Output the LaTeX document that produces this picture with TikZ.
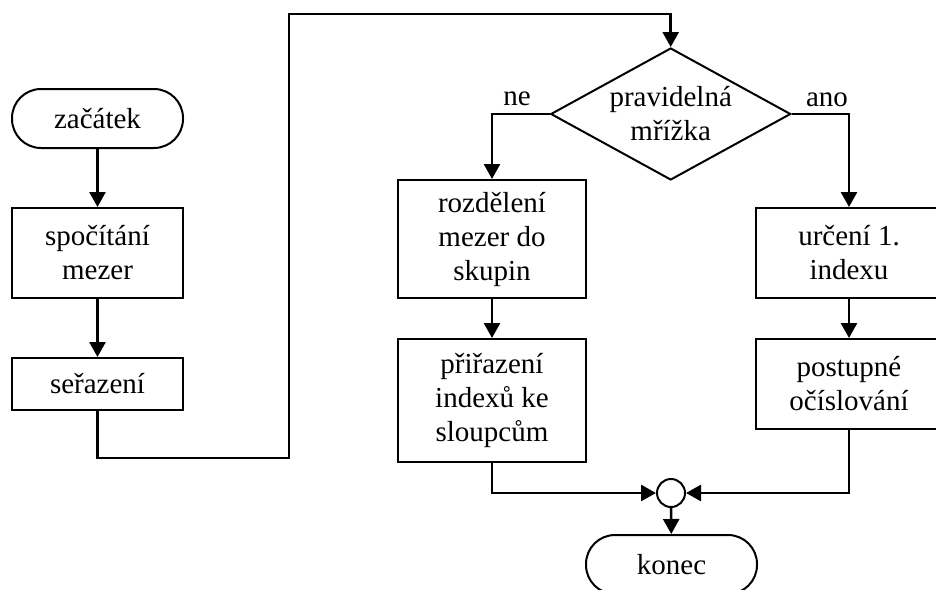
\documentclass[tikz,border=0pt]{standalone}
\usepackage{fontspec}
\setmainfont{Liberation Serif}
\usetikzlibrary{shapes.geometric,arrows.meta}

\begin{document}
\begin{tikzpicture}[x=1pt,y=-1pt,
  every node/.style={font=\fontsize{29}{34}\selectfont, inner sep=0pt, align=center},
  terminal/.style={draw, line width=2pt, rounded corners=29pt,
    minimum width=171pt, minimum height=59pt},
  process/.style={draw, line width=2pt, minimum width=188pt},
  decision/.style={draw, diamond, aspect=1.82, line width=2pt,
    minimum width=240pt, minimum height=132pt},
  junction/.style={draw, circle, line width=2pt, minimum size=28pt},
  flow/.style={line width=2.6pt, -{Triangle[length=15pt,width=16pt]}},
  branchlabel/.style={anchor=base}]

\clip (0,0) rectangle (936,589);

% left column
\node[terminal] (start) at (97.5,118.5) {začátek};
\node[process, minimum width=171pt, minimum height=90pt] (count) at (97.5,253) {spočítání\\mezer};
\node[process, minimum width=171pt, minimum height=52pt] (sort) at (97.5,384) {seřazení};

% decision
\node[decision] (grid) at (670.7,114) {pravidelná\\mřížka};
\node[branchlabel] (no) at (517,105) {ne};
\node[branchlabel] (yes) at (827,106) {ano};

% irregular branch
\node[process, minimum height=118pt] (groups) at (492,239) {rozdělení\\mezer do\\skupin};
\node[process, minimum height=123pt] (assign) at (492,400.5) {přiřazení\\indexů ke\\sloupcům};

% regular branch
\node[process, minimum width=186pt, minimum height=90pt] (first) at (849,253) {určení 1.\\indexu};
\node[process, minimum width=186pt, minimum height=90pt] (number) at (849,384) {postupné\\očíslování};

% merge and end
\node[junction] (merge) at (671,493) {};
\node[terminal] (stop) at (671.5,564.5) {konec};

% loop from the left column to the decision
\coordinate (loopbottom) at (289,458);
\coordinate (looptop) at (289,14);

\draw[flow] (start) -- (count);
\draw[flow] (count) -- (sort);
\draw[flow] (sort.south) |- (loopbottom) -- (looptop) -| (grid.north);
\draw[flow] (grid.west) -| (groups.north);
\draw[flow] (grid.east) -| (first.north);
\draw[flow] (groups) -- (assign);
\draw[flow] (first) -- (number);
\draw[flow] (assign.south) |- (merge.west);
\draw[flow] (number.south) |- (merge.east);
\draw[flow] (merge) -- (stop);
\end{tikzpicture}
\end{document}
